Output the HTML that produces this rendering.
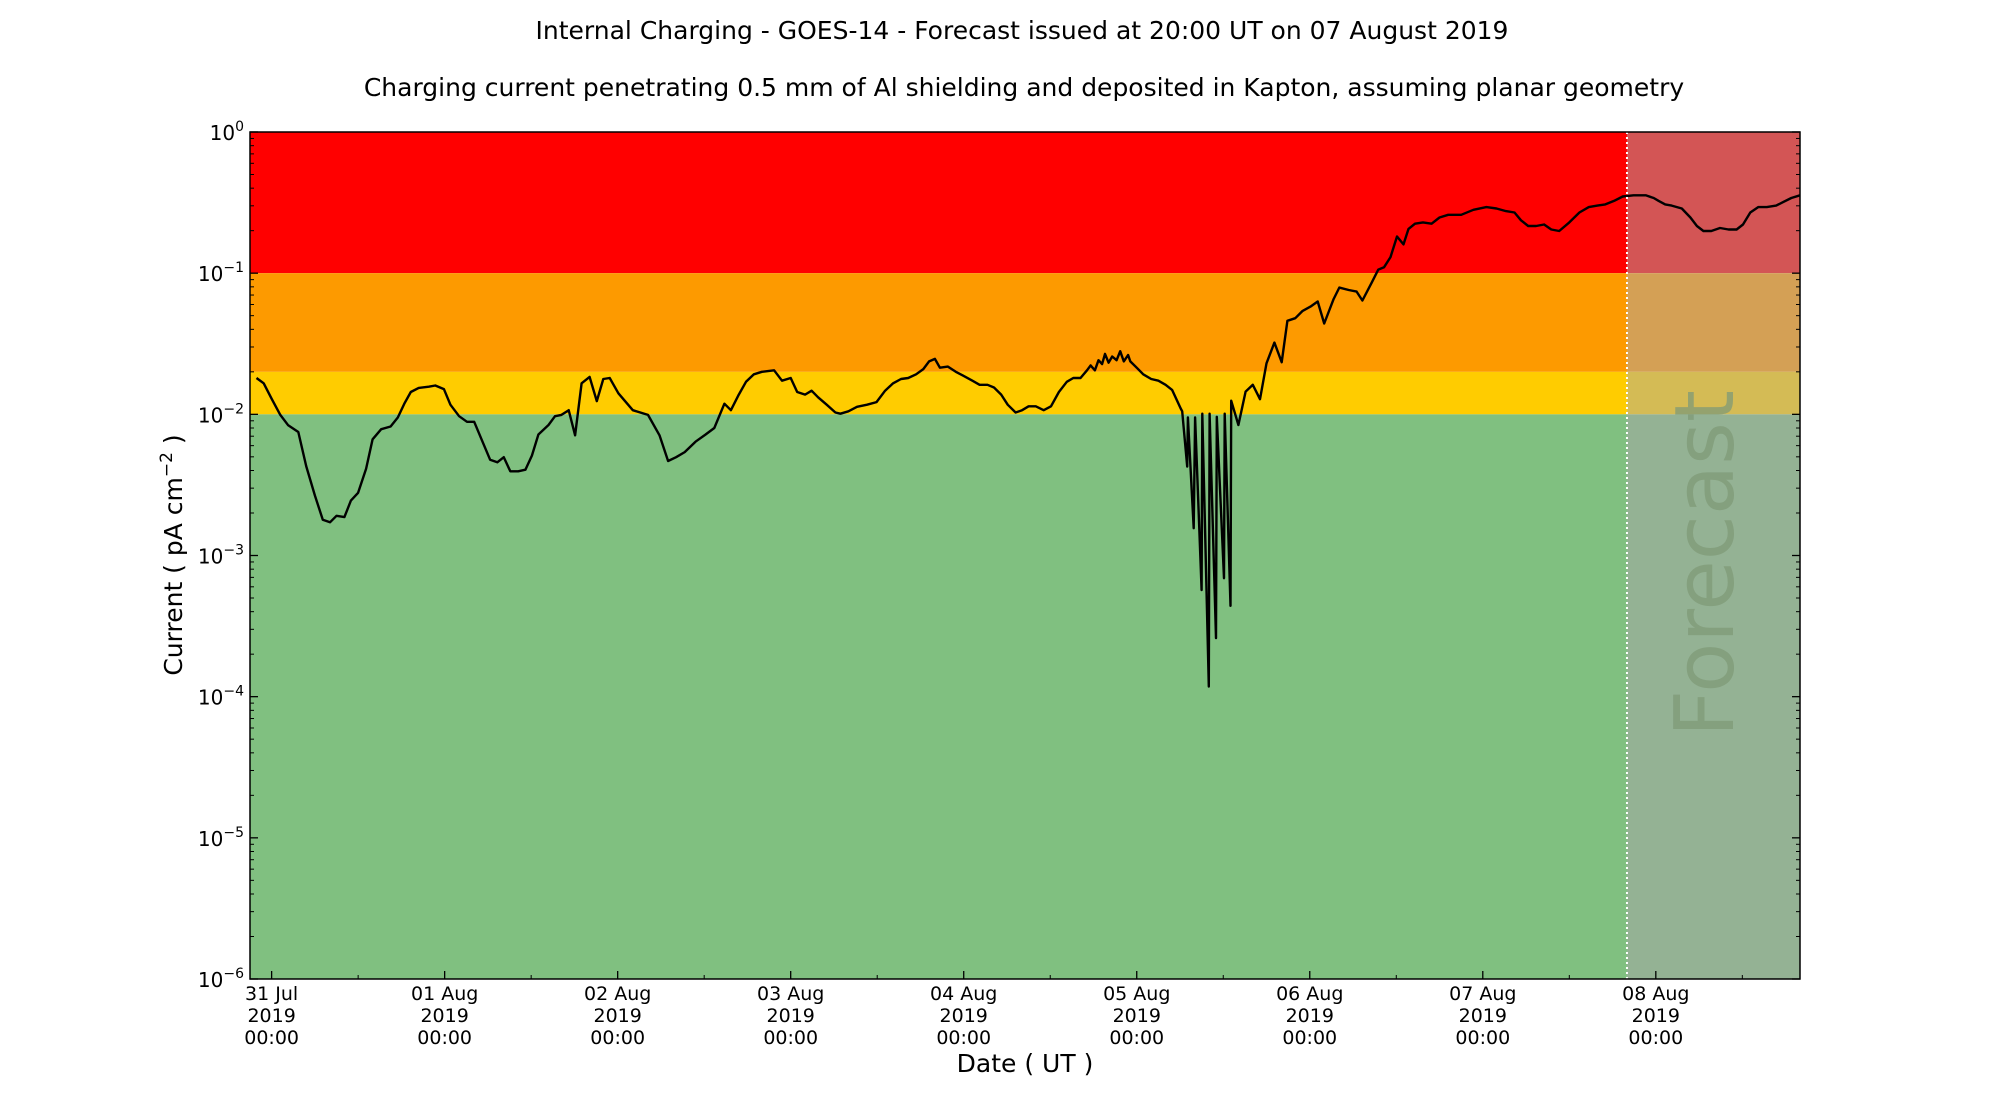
<!DOCTYPE html>
<html><head><meta charset="utf-8"><style>
html,body{margin:0;padding:0;background:#fff;}
svg{display:block;font-family:"DejaVu Sans","Liberation Sans",sans-serif;}
</style></head><body>
<svg id="chart" width="2000" height="1100" viewBox="0 0 2000 1100">
<text x="1022" y="39" text-anchor="middle" font-size="25">Internal Charging - GOES-14 - Forecast issued at 20:00 UT on 07 August 2019</text>
<text x="1024" y="96" text-anchor="middle" font-size="25">Charging current penetrating 0.5 mm of Al shielding and deposited in Kapton, assuming planar geometry</text>
<g id="bands"></g>
<g id="marks"></g>
<g id="axes"></g>
<text x="1025" y="1072" text-anchor="middle" font-size="25">Date ( UT )</text>
<text transform="translate(182,555) rotate(-90)" text-anchor="middle" font-size="25">Current ( pA cm<tspan dy="-10" font-size="17">−2</tspan><tspan dy="10"> )</tspan></text>
</svg>
<script>
// data: hours since 31 Jul 2019 00:00 UT, current in pA cm^-2
const hours = [-2.1,-1.1,0,1.2,2.3,3.7,4.8,6.0,7.1,8.1,9.0,10.1,11.0,12.0,13.1,14.0,15.2,16.5,17.5,18.4,19.3,20.4,21.8,22.7,23.9,24.8,26.0,27.1,28.1,29.2,30.3,31.3,32.2,33.1,34.2,35.2,36.1,37.0,38.4,39.3,40.2,41.2,42.1,43.0,44.1,45.1,46.0,46.9,48.1,50.1,52.2,53.8,55.0,56.1,57.3,58.8,60.2,61.4,62.8,63.7,64.8,65.8,66.9,68.0,69.7,70.8,72.0,72.9,74.0,74.9,75.8,77.0,78.2,78.9,80.0,81.2,82.6,83.9,85.1,86.2,87.3,88.3,89.4,90.4,91.2,92.0,92.7,93.8,94.9,95.9,97.2,98.2,99.3,100.2,101.2,102.1,103.2,104.1,105.0,106.0,107.1,108.1,109.2,110.3,111.2,112.2,113.1,113.6,114.2,114.7,115.2,115.6,116.1,116.6,117.2,117.7,118.2,118.8,119.1,120.0,120.9,122.0,123.0,124.0,124.9,126.1,126.3,127.0,127.1,127.9,128.1,129.0,129.1,130.0,130.1,131.0,131.1,132.1,132.2,133.0,133.1,134.1,135.1,136.1,137.1,138.0,139.1,140.1,140.9,142.0,143.0,144.1,145.1,146.0,147.3,148.1,149.4,150.5,151.3,152.6,153.5,154.3,155.2,156.1,157.0,157.7,158.6,159.7,160.9,162.0,163.2,165.0,166.7,168.5,169.9,171.2,172.4,173.3,174.3,175.4,176.5,177.5,178.6,180.0,181.4,182.7,183.9,185.0,186.2,187.4,188.9,190.6,191.7,192.4,193.3,194.2,195.6,196.8,197.7,198.6,199.7,200.9,202.1,203.2,204.1,205.1,206.2,207.4,208.7,209.7,210.8,212.0];
const current = [1.81e-2,1.66e-2,1.29e-2,9.9e-3,8.36e-3,7.5e-3,4.3e-3,2.66e-3,1.79e-3,1.72e-3,1.91e-3,1.87e-3,2.45e-3,2.78e-3,4.12e-3,6.65e-3,7.85e-3,8.2e-3,9.5e-3,1.19e-2,1.44e-2,1.54e-2,1.57e-2,1.60e-2,1.51e-2,1.17e-2,9.7e-3,8.85e-3,8.85e-3,6.5e-3,4.77e-3,4.57e-3,4.97e-3,3.95e-3,3.95e-3,4.05e-3,5.1e-3,7.2e-3,8.4e-3,9.7e-3,9.9e-3,1.07e-2,7.1e-3,1.66e-2,1.84e-2,1.24e-2,1.78e-2,1.81e-2,1.41e-2,1.07e-2,9.9e-3,7.1e-3,4.67e-3,4.97e-3,5.4e-3,6.4e-3,7.2e-3,8.0e-3,1.19e-2,1.07e-2,1.38e-2,1.70e-2,1.92e-2,2.0e-2,2.05e-2,1.73e-2,1.81e-2,1.44e-2,1.38e-2,1.47e-2,1.32e-2,1.17e-2,1.03e-2,1.01e-2,1.05e-2,1.13e-2,1.17e-2,1.22e-2,1.47e-2,1.66e-2,1.78e-2,1.81e-2,1.92e-2,2.09e-2,2.37e-2,2.47e-2,2.14e-2,2.18e-2,2.0e-2,1.88e-2,1.73e-2,1.62e-2,1.62e-2,1.55e-2,1.38e-2,1.17e-2,1.03e-2,1.07e-2,1.14e-2,1.14e-2,1.07e-2,1.14e-2,1.44e-2,1.70e-2,1.81e-2,1.81e-2,2.05e-2,2.22e-2,2.05e-2,2.42e-2,2.27e-2,2.68e-2,2.32e-2,2.57e-2,2.42e-2,2.80e-2,2.37e-2,2.63e-2,2.37e-2,2.14e-2,1.92e-2,1.78e-2,1.73e-2,1.62e-2,1.49e-2,1.10e-2,1.05e-2,4.27e-3,9.5e-3,1.56e-3,9.5e-3,5.7e-4,1.01e-2,1.18e-4,1.01e-2,2.6e-4,9.6e-3,6.9e-4,1.01e-2,4.4e-4,1.25e-2,8.4e-3,1.45e-2,1.62e-2,1.28e-2,2.30e-2,3.22e-2,2.34e-2,4.6e-2,4.8e-2,5.4e-2,5.8e-2,6.3e-2,4.4e-2,6.55e-2,7.9e-2,7.6e-2,7.4e-2,6.4e-2,8.6e-2,0.106,0.110,0.130,0.182,0.160,0.206,0.224,0.229,0.224,0.248,0.259,0.259,0.281,0.294,0.287,0.275,0.269,0.237,0.216,0.216,0.221,0.204,0.199,0.229,0.269,0.294,0.301,0.307,0.325,0.349,0.356,0.356,0.341,0.325,0.307,0.301,0.287,0.248,0.216,0.199,0.199,0.209,0.204,0.204,0.221,0.269,0.294,0.294,0.301,0.320,0.341,0.356];
const dayLabels = ["31 Jul","01 Aug","02 Aug","03 Aug","04 Aug","05 Aug","06 Aug","07 Aug","08 Aug"];
const decadeExps = [0,-1,-2,-3,-4,-5,-6];
const thresholds = [1, 0.1, 0.02, 0.01, 1e-6];
const bandColors = ["#ff0000","#fd9a00","#ffcc00","#80c080"];
const forecastColors = ["#d35555","#d4a055","#d4bb55","#94b294"];
const forecastHour = 188;
const xMin = -3, xMax = 212, yMinExp = -6, yMaxExp = 0;

const L=250,R=1800,T=132,B=979;
const NS="http://www.w3.org/2000/svg";
const xs = h => L + (h - xMin) / (xMax - xMin) * (R - L);
const ys = v => T + (yMaxExp - Math.log10(v)) / (yMaxExp - yMinExp) * (B - T);
function mk(tag, attrs, parent){const e=document.createElementNS(NS,tag);for(const k in attrs)e.setAttribute(k,attrs[k]);parent.appendChild(e);return e;}
const bands=document.getElementById('bands'), marks=document.getElementById('marks'), axes=document.getElementById('axes');
const xf = xs(forecastHour);
for(let i=0;i<bandColors.length;i++){
  const y1=ys(thresholds[i]), y2=ys(thresholds[i+1]);
  const r=mk('rect',{x:L,y:y1,width:xf-L,height:y2-y1,fill:bandColors[i]},bands);
  
  
  const f=mk('rect',{x:xf,y:y1,width:R-xf,height:y2-y1,fill:forecastColors[i]},bands);
  
  
}
const ft=mk('text',{transform:`translate(1733,737) rotate(-90)`,'font-size':82,fill:'#7f9a77','fill-opacity':0.75},bands);
ft.textContent='Forecast';


let d='';
for(let i=0;i<hours.length;i++){d+=(i?'L':'M')+xs(hours[i]).toFixed(1)+','+ys(current[i]).toFixed(1);}
const line=mk('path',{d:d,fill:'none',stroke:'#000','stroke-width':2.4,'stroke-linejoin':'round'},marks);


const fl=mk('line',{x1:xf,y1:T,x2:xf,y2:B,stroke:'#fff','stroke-width':2,'stroke-dasharray':'2,3'},marks);


const fr=mk('rect',{x:L,y:T,width:R-L,height:B-T,fill:'none',stroke:'#000','stroke-width':1.5},axes);


for(const e of decadeExps){
  const y=ys(Math.pow(10,e));
  mk('line',{x1:L,y1:y,x2:L+8,y2:y,stroke:'#000','stroke-width':1.3},axes);
  mk('line',{x1:R,y1:y,x2:R-8,y2:y,stroke:'#000','stroke-width':1.3},axes);
  const t=mk('text',{x:L-6,y:y+8,'text-anchor':'end','font-size':20},axes);
  
  
  const b=mk('tspan',{},t); b.textContent='10';
  const s=mk('tspan',{dy:-9,'font-size':14},t);
  s.textContent=(e<0?'−'+(-e):String(e));
  if(e>yMinExp){
    for(let m=2;m<10;m++){
      const ym=ys(m*Math.pow(10,e-1));
      mk('line',{x1:L,y1:ym,x2:L+4,y2:ym,stroke:'#000','stroke-width':1},axes);
      mk('line',{x1:R,y1:ym,x2:R-4,y2:ym,stroke:'#000','stroke-width':1},axes);
    }
  }
}
dayLabels.forEach((lab,i)=>{
  const x=xs(i*24);
  mk('line',{x1:x,y1:B,x2:x,y2:B-8,stroke:'#000','stroke-width':1.3},axes);
  const xm=xs(i*24+12);
  if(i*24+12<xMax) mk('line',{x1:xm,y1:B,x2:xm,y2:B-4,stroke:'#000','stroke-width':1},axes);
  const g=mk('text',{x:x,y:1000,'text-anchor':'middle','font-size':19},axes);
  
  
  [lab,'2019','00:00'].forEach((s,k)=>{const ts=mk('tspan',{x:x,dy:k?22:0},g);ts.textContent=s;});
});
</script>
</body></html>
